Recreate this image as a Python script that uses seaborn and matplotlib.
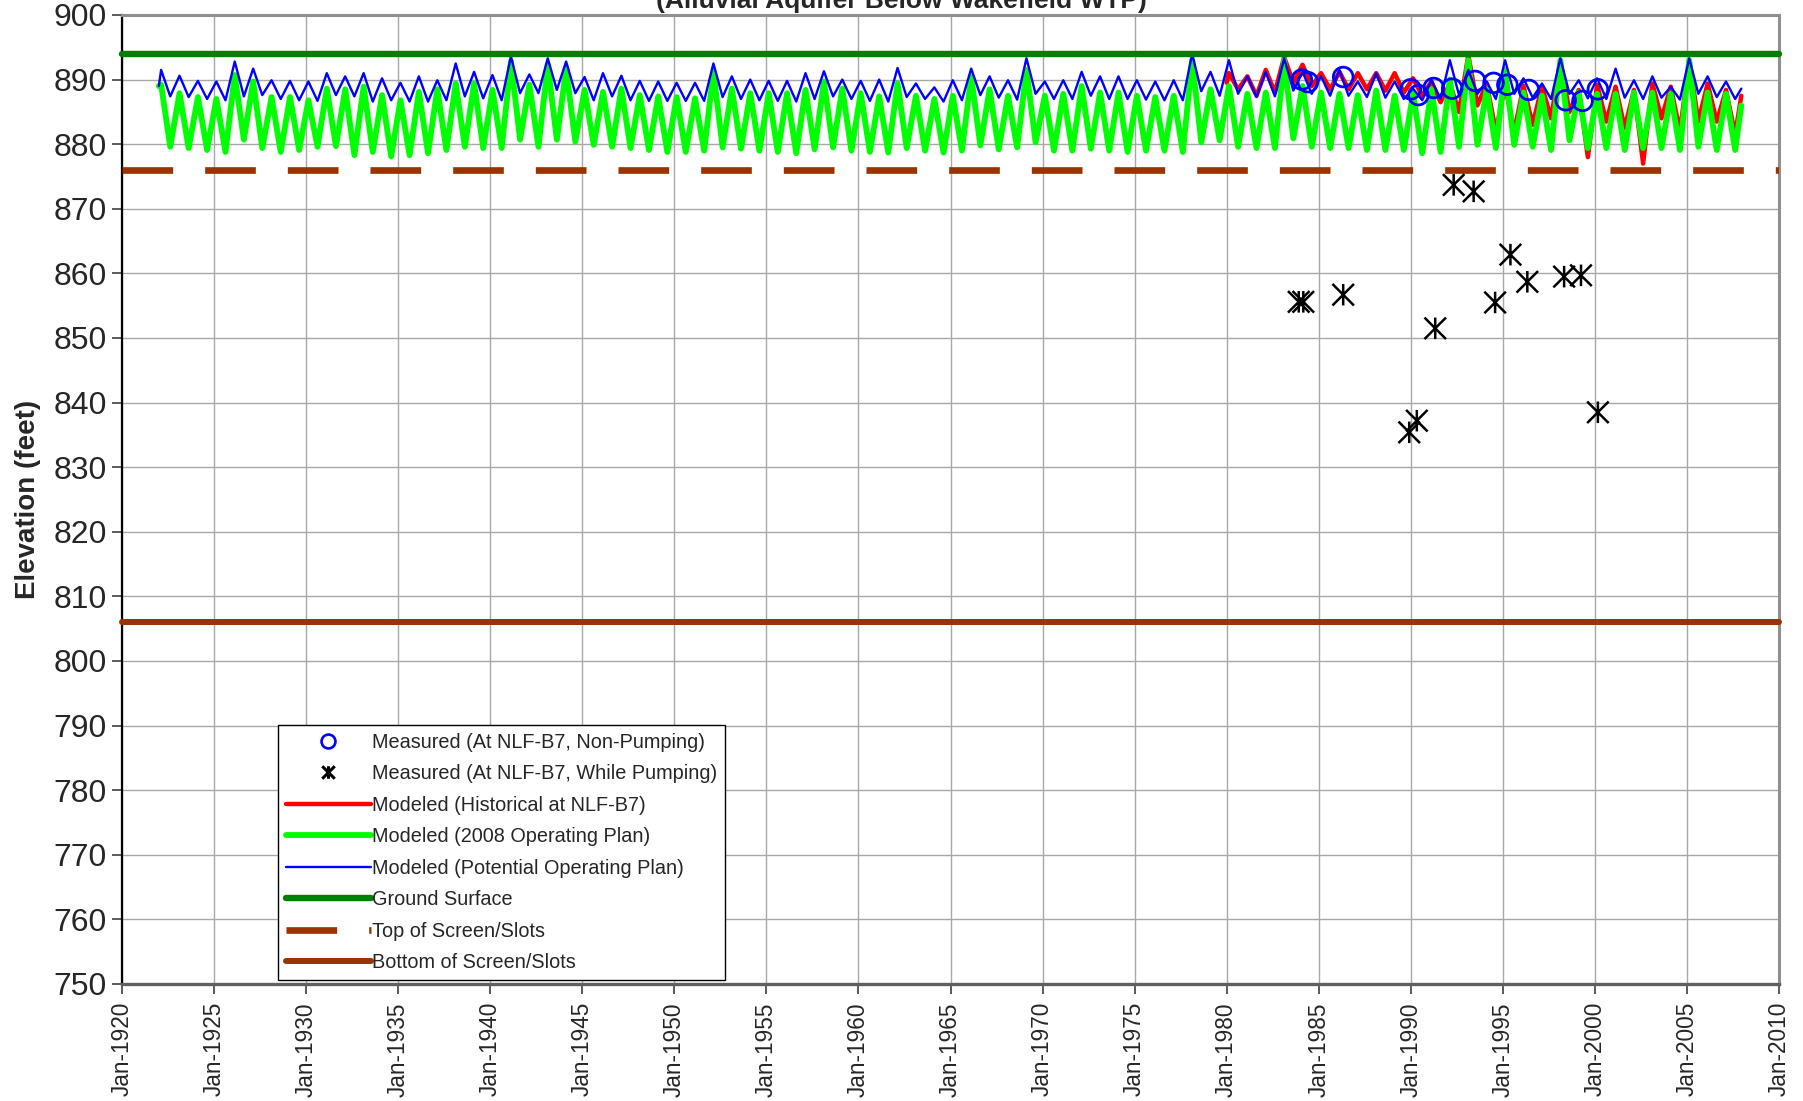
import numpy as np
import pandas as pd
import matplotlib
matplotlib.use("Agg")
import matplotlib.pyplot as plt
import matplotlib.dates as mdates
from matplotlib.path import Path
from matplotlib.lines import Line2D
import seaborn as sns

# ---------------- data ----------------
years = list(range(1922, 2008))

green_peak = [889.2, 887.9, 887.3, 887.0, 890.7, 889.7, 887.3, 887.3, 886.8, 888.6,
              888.5, 888.9, 887.6, 886.8, 888.1, 888.5, 889.4, 889.4, 888.4, 892.8,
              889.2, 892.3, 891.7, 888.4, 888.1, 888.6, 887.6, 887.4, 887.3, 887.1,
              891.2, 888.6, 887.9, 887.9, 887.9, 888.4, 889.7, 888.6, 887.9, 887.4,
              889.4, 887.5, 887.0, 887.5, 890.5, 888.5, 887.5, 891.5, 887.5, 887.8,
              889.0, 888.0, 888.0, 887.5, 887.3, 887.5, 893.0, 888.5, 889.0, 887.8,
              888.0, 893.0, 889.0, 888.0, 887.8, 887.6, 888.3, 887.5, 887.8, 888.5,
              890.0, 893.0, 888.5, 891.5, 888.0, 887.5, 893.0, 888.0, 887.8, 887.8,
              888.0, 888.0, 887.8, 893.0, 888.0, 887.8]
green_trough = [879.6, 879.4, 879.1, 878.8, 880.7, 879.4, 878.8, 879.1, 879.6, 879.7,
                878.3, 878.8, 878.1, 878.3, 878.6, 879.1, 879.6, 879.4, 879.4, 880.7,
                879.6, 880.7, 880.4, 879.9, 879.6, 879.4, 879.1, 878.8, 878.8, 879.0,
                879.5, 879.3, 879.0, 878.8, 878.6, 879.2, 879.5, 879.0, 878.8, 878.7,
                879.4, 879.0, 878.7, 879.0, 879.8, 879.2, 879.5, 880.3, 879.0, 879.0,
                879.3, 879.0, 878.8, 879.0, 879.0, 878.8, 880.3, 880.6, 879.6, 879.4,
                879.4, 880.9, 879.6, 879.4, 879.4, 879.1, 879.1, 879.1, 878.6, 878.8,
                879.6, 879.9, 879.4, 879.9, 879.6, 879.1, 880.6, 879.4, 879.4, 879.1,
                879.4, 879.4, 879.1, 879.6, 879.1, 879.1]
green_start, green_end = 889.0, 886.0

blue_peak = [891.5, 890.6, 889.8, 889.7, 892.8, 891.7, 889.9, 889.8, 889.7, 891.0,
             890.5, 891.0, 890.2, 889.5, 890.5, 889.9, 892.5, 891.2, 890.7, 893.6,
             890.8, 893.3, 892.8, 890.4, 891.0, 890.6, 889.8, 889.7, 889.5, 889.5,
             892.5, 890.5, 890.0, 889.8, 889.8, 891.0, 891.3, 890.0, 889.8, 890.0,
             891.8, 889.4, 888.8, 889.9, 891.7, 890.5, 889.9, 893.3, 889.7, 889.9,
             891.2, 890.5, 890.5, 889.9, 889.7, 889.9, 894.0, 891.2, 893.0, 890.5,
             891.2, 893.3, 891.2, 890.5, 891.5, 889.7, 891.0, 889.7, 888.6, 889.9,
             893.0, 891.5, 889.7, 893.0, 890.2, 889.4, 893.3, 889.9, 890.2, 891.7,
             889.9, 890.5, 888.9, 893.3, 890.5, 889.7]
blue_trough = [887.4, 887.3, 887.0, 886.8, 887.4, 887.6, 887.0, 886.8, 886.7, 887.6,
               887.4, 886.6, 886.8, 886.6, 886.6, 886.8, 887.4, 887.1, 886.8, 887.9,
               887.9, 888.4, 887.9, 886.8, 887.4, 886.8, 886.7, 886.7, 886.7, 886.7,
               887.3, 887.0, 886.8, 886.7, 886.6, 887.0, 887.4, 887.0, 886.7, 886.6,
               887.3, 887.0, 886.6, 886.8, 887.6, 887.2, 886.9, 887.8, 887.0, 887.0,
               887.5, 887.0, 887.0, 886.9, 886.8, 886.8, 888.2, 887.5, 887.8, 887.3,
               887.4, 888.3, 887.8, 887.5, 887.5, 887.3, 887.2, 887.0, 886.8, 887.0,
               887.6, 887.8, 887.0, 887.8, 887.2, 887.0, 887.8, 887.1, 887.0, 887.2,
               887.0, 887.2, 886.9, 887.8, 887.3, 887.0]
blue_start, blue_end = 889.0, 888.6

red_years = list(range(1980, 2008))
red_peak = [891.0, 890.5, 891.5, 893.5, 892.3, 891.0, 891.2, 891.0, 891.0, 891.0,
            890.2, 889.7, 889.4, 893.8, 889.4, 889.0, 889.0, 889.0, 893.0, 888.4,
            889.2, 888.9, 888.4, 889.4, 888.9, 893.0, 889.4, 888.4]
red_trough = [888.5, 887.5, 888.0, 889.5, 889.0, 888.5, 888.5, 888.5, 888.3, 888.0,
              887.5, 886.5, 885.0, 886.0, 882.0, 882.0, 883.0, 884.0, 885.0, 878.0,
              883.5, 882.5, 877.0, 884.0, 882.0, 883.5, 883.5, 881.5]
red_start, red_end = 889.5, 887.5

nonpump_dates = ["1984-02", "1984-06", "1986-05", "1990-01", "1990-06", "1991-04",
                 "1992-04", "1993-07", "1994-07", "1995-04", "1996-06", "1998-06",
                 "1999-05", "2000-03"]
nonpump_vals = [890.0, 889.6, 890.4, 888.5, 887.6, 888.7, 888.6, 889.8, 889.5, 889.2,
                888.4, 886.8, 886.7, 888.5]

pump_dates = ["1983-12", "1984-03", "1986-05", "1989-12", "1990-05", "1991-05",
              "1992-05", "1993-06", "1994-08", "1995-06", "1996-05", "1998-05",
              "1999-04", "2000-03"]
pump_vals = [855.6, 855.6, 856.7, 835.4, 837.2, 851.5, 873.7, 872.7, 855.5, 862.9,
             858.7, 859.5, 859.7, 838.5]

ground_surface = 894.0
top_screen = 876.0
bottom_screen = 806.0

labels = ["Measured (At NLF-B7, Non-Pumping)", "Measured (At NLF-B7, While Pumping)",
          "Modeled (Historical at NLF-B7)", "Modeled (2008 Operating Plan)",
          "Modeled (Potential Operating Plan)", "Ground Surface",
          "Top of Screen/Slots", "Bottom of Screen/Slots"]
title = "(Alluvial Aquifer Below Wakefield WTP)"
ylabel = "Elevation (feet)"

assert len(green_peak) == len(years) == len(green_trough) == len(blue_peak) == len(blue_trough)
assert len(red_peak) == len(red_years) == len(red_trough)


def build(yrs, peaks, troughs, start, end):
    dates = [pd.Timestamp(yrs[0], 1, 1)]
    vals = [start]
    for y, p, t in zip(yrs, peaks, troughs):
        dates += [pd.Timestamp(y, 2, 15), pd.Timestamp(y, 8, 15)]
        vals += [p, t]
    dates.append(pd.Timestamp(yrs[-1], 12, 15))
    vals.append(end)
    return pd.DataFrame({"date": dates, "elev": vals})


green_df = build(years, green_peak, green_trough, green_start, green_end)
blue_df = build(years, blue_peak, blue_trough, blue_start, blue_end)
red_df = build(red_years, red_peak, red_trough, red_start, red_end)
np_df = pd.DataFrame({"date": pd.to_datetime(nonpump_dates), "elev": nonpump_vals})
p_df = pd.DataFrame({"date": pd.to_datetime(pump_dates), "elev": pump_vals})

# ---------------- style ----------------
sns.set_theme(style="white")
plt.rcParams["font.family"] = ["Liberation Sans", "DejaVu Sans"]

RED, GREEN, BLUE = "#FF0000", "#00FF00", "#0000FF"
DKGREEN, BROWN = "#008000", "#993300"

fig = plt.figure(figsize=(18.03, 11.01), dpi=100)
ax = fig.add_axes([122 / 1803, 1 - 984 / 1101, (1779 - 122) / 1803, 969 / 1101])

sns.lineplot(data=red_df, x="date", y="elev", color=RED, linewidth=3.2,
             estimator=None, sort=False, ax=ax, zorder=2)
sns.lineplot(data=green_df, x="date", y="elev", color=GREEN, linewidth=4.2,
             estimator=None, sort=False, ax=ax, zorder=2.1)
sns.lineplot(data=blue_df, x="date", y="elev", color=BLUE, linewidth=1.7,
             estimator=None, sort=False, ax=ax, zorder=2.2)

ax.axhline(ground_surface, color=DKGREEN, linewidth=4.6, solid_capstyle="round",
           clip_on=False, zorder=3)
ax.axhline(top_screen, color=BROWN, linewidth=4.8, linestyle=(0, (7.6, 4.8)),
           dash_capstyle="butt", zorder=3)
ax.axhline(bottom_screen, color=BROWN, linewidth=4.3, solid_capstyle="round",
           clip_on=False, zorder=3)

star = Path([(0, -1), (0, 1), (-1, -1), (1, 1), (-1, 1), (1, -1)],
            [Path.MOVETO, Path.LINETO] * 3)

sns.scatterplot(data=np_df, x="date", y="elev", marker="o", s=200,
                facecolor="none", edgecolor=BLUE, linewidth=2.0, ax=ax, zorder=5)
sns.scatterplot(data=p_df, x="date", y="elev", marker=star, s=240,
                facecolor="none", edgecolor="black", linewidth=1.8, ax=ax, zorder=5)

# ---------------- axes ----------------
ax.set_xlim(pd.Timestamp(1920, 1, 1), pd.Timestamp(2010, 1, 1))
ax.set_ylim(750, 900)
ax.set_yticks(np.arange(750, 901, 10))
ax.xaxis.set_major_locator(mdates.YearLocator(5))
ax.xaxis.set_major_formatter(mdates.DateFormatter("%b-%Y"))
ax.set_xlabel("")
ax.set_ylabel(ylabel, fontsize=20, fontweight="bold")
ax.yaxis.set_label_coords(-0.049, 0.5)

ax.grid(True, color="#A8A8A8", linewidth=1.0)
ax.set_axisbelow(True)
ax.tick_params(axis="x", direction="out", length=7, width=1.2, pad=6,
               labelsize=16.3, labelrotation=90, bottom=True, color="#404040")
ax.tick_params(axis="y", direction="out", length=7, width=1.2, pad=4,
               labelsize=23, left=True, color="#404040")
for lbl in ax.get_yticklabels():
    lbl.set_fontfamily(["Liberation Sans Narrow", "Liberation Sans", "DejaVu Sans"])

for side in ["top", "right"]:
    ax.spines[side].set_color("#909090")
    ax.spines[side].set_linewidth(2.2)
ax.spines["left"].set_color("black")
ax.spines["left"].set_linewidth(1.6)
ax.spines["bottom"].set_color("#606060")
ax.spines["bottom"].set_linewidth(2.4)

# ---------------- legend ----------------
handles = [
    Line2D([], [], linestyle="none", marker="o", markersize=10, markerfacecolor="none",
           markeredgecolor=BLUE, markeredgewidth=1.9),
    Line2D([], [], linestyle="none", marker=star, markersize=9, markerfacecolor="none",
           markeredgecolor="black", markeredgewidth=2.2),
    Line2D([], [], color=RED, linewidth=3.2),
    Line2D([], [], color=GREEN, linewidth=4.2),
    Line2D([], [], color=BLUE, linewidth=1.7),
    Line2D([], [], color=DKGREEN, linewidth=4.6, solid_capstyle="round"),
    Line2D([], [], color=BROWN, linewidth=4.8, linestyle=(0, (7.6, 4.8)), dash_capstyle="butt"),
    Line2D([], [], color=BROWN, linewidth=4.3, solid_capstyle="round"),
]
leg = ax.legend(handles, labels, loc="lower left", bbox_to_anchor=(0.094, 0.004),
                fontsize=14.3, frameon=True, fancybox=False, edgecolor="black",
                framealpha=1, handlelength=4.3, handletextpad=0.05, labelspacing=0.63,
                borderpad=0.4, borderaxespad=0)
leg.get_frame().set_linewidth(1.0)
leg.set_zorder(6)

fig.text(0.5, 1 - 8 / 1101, title, ha="center", va="baseline", fontsize=19,
         fontweight="bold")

fig.savefig("out.png", dpi=100)
